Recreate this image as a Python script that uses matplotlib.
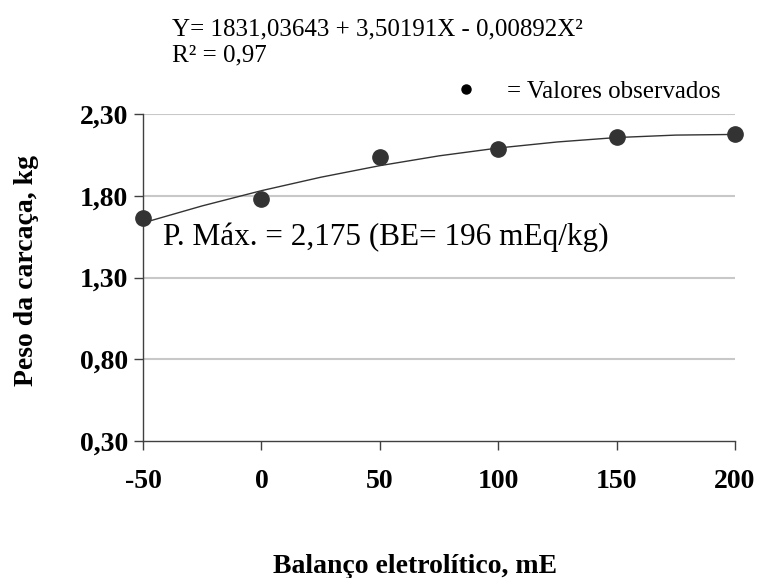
import matplotlib
matplotlib.use("Agg")
import matplotlib.pyplot as plt

plt.rcParams["font.family"] = ["Liberation Serif", "DejaVu Serif"]

# observed values (kg)
balanco = [-50, 0, 50, 100, 150, 200]
peso_obs = [1.662, 1.778, 2.035, 2.084, 2.157, 2.176]

# fitted curve
balanco_fit = [-50, -25, 0, 25, 50, 75, 100, 125, 150, 175, 200]
peso_fit = [1.634, 1.738, 1.831, 1.913, 1.984, 2.044, 2.092, 2.129, 2.156, 2.171, 2.175]

x_ticks = [-50, 0, 50, 100, 150, 200]
y_ticks = [0.30, 0.80, 1.30, 1.80, 2.30]
y_tick_labels = ["0,30", "0,80", "1,30", "1,80", "2,30"]

W, H = 761, 578
fig = plt.figure(figsize=(W / 100, H / 100), dpi=100)
ax = fig.add_axes([143 / W, 1 - 441 / H, (735 - 143) / W, (441 - 114) / H])

dark = "#333333"
for y in y_ticks[1:]:
    ax.axhline(y, color="#c8c8c8", lw=1.5, zorder=0)

ax.plot(balanco_fit, peso_fit, color=dark, lw=1.0, zorder=2)
ax.plot(balanco, peso_obs, "o", color=dark, ms=11, zorder=3, clip_on=False)

ax.set_xlim(-50, 200)
ax.set_ylim(0.30, 2.30)
ax.set_xticks(x_ticks)
ax.set_xticklabels([str(v) for v in x_ticks])
ax.set_yticks(y_ticks)
ax.set_yticklabels(y_tick_labels)

for s in ["top", "right"]:
    ax.spines[s].set_visible(False)
for s in ["left", "bottom"]:
    ax.spines[s].set_color("#404040")
    ax.spines[s].set_linewidth(1.0)

ax.tick_params(axis="x", direction="out", length=6.5, width=1, color="#404040",
               pad=14, labelsize=20)
ax.tick_params(axis="y", direction="out", length=6.5, width=1, color="#404040",
               pad=4, labelsize=20)
for lab in ax.get_xticklabels() + ax.get_yticklabels():
    lab.set_fontweight("bold")


def ftxt(x, y, s, **kw):
    fig.text(x / W, 1 - y / H, s, **kw)


ftxt(172, 35, "Y= 1831,03643 + 3,50191X - 0,00892X²", fontsize=18, va="baseline")
ftxt(172, 61, "R² = 0,97", fontsize=18, va="baseline")
ftxt(506.7, 98, "= Valores observados", fontsize=18, va="baseline")
fig.lines.append(plt.Line2D([466 / W], [1 - 89 / H], marker="o", color="black",
                            ms=6.5, transform=fig.transFigure))
ftxt(162.7, 245, "P. Máx. = 2,175 (BE= 196 mEq/kg)", fontsize=22.5, va="baseline")
ftxt(273, 573, "Balanço eletrolítico, mE", fontsize=20, fontweight="bold", va="baseline")
ftxt(27, 271, "Peso da carcaça, kg", fontsize=20, fontweight="bold", rotation=90,
     ha="center", va="center")

fig.savefig("out.png", dpi=100)
